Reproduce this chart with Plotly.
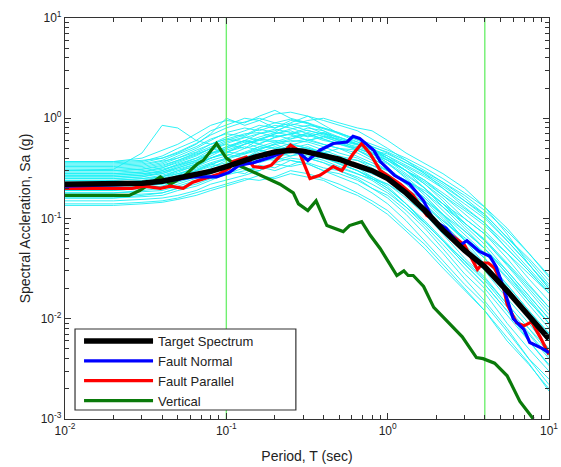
import plotly.graph_objects as go

# ---------------- data ----------------
periods = [0.01, 0.02, 0.03, 0.04, 0.05, 0.065, 0.08, 0.1, 0.13, 0.16, 0.2, 0.25, 0.32,
           0.4, 0.5, 0.65, 0.8, 1.0, 1.3, 1.7, 2.2, 3.0, 4.0, 5.5, 7.5, 10.0]

cyan_spectra = [
    [0.30,0.31,0.45,0.85,0.80,0.60,0.55,0.62,0.58,0.50,0.55,0.48,0.40,0.36,0.30,0.25,0.20,0.17,0.12,0.08,0.05,0.028,0.018,0.009,0.005,0.003],
    [0.37,0.37,0.40,0.48,0.55,0.70,0.85,0.95,0.90,1.05,1.20,1.00,0.90,0.75,0.65,0.55,0.45,0.36,0.25,0.17,0.11,0.06,0.035,0.02,0.011,0.006],
    [0.35,0.35,0.36,0.40,0.45,0.55,0.70,1.00,0.85,0.95,0.80,0.90,1.05,0.85,0.70,0.62,0.50,0.40,0.30,0.22,0.15,0.09,0.06,0.035,0.02,0.012],
    [0.28,0.28,0.29,0.31,0.34,0.38,0.45,0.52,0.60,0.70,0.75,0.85,0.95,1.00,0.90,0.80,0.75,0.60,0.45,0.35,0.28,0.20,0.13,0.07,0.035,0.02],
    [0.25,0.25,0.26,0.28,0.32,0.36,0.40,0.45,0.55,0.60,0.58,0.65,0.70,0.62,0.55,0.50,0.45,0.38,0.30,0.22,0.16,0.10,0.07,0.04,0.022,0.013],
    [0.14,0.14,0.145,0.15,0.16,0.18,0.20,0.22,0.25,0.24,0.26,0.30,0.28,0.25,0.22,0.18,0.15,0.12,0.08,0.055,0.035,0.02,0.012,0.006,0.0035,0.002],
    [0.16,0.16,0.165,0.17,0.19,0.21,0.24,0.28,0.32,0.30,0.36,0.40,0.38,0.42,0.35,0.30,0.25,0.20,0.14,0.09,0.06,0.035,0.022,0.012,0.006,0.0035],
    [0.20,0.20,0.21,0.22,0.25,0.30,0.35,0.32,0.40,0.48,0.45,0.50,0.55,0.48,0.42,0.38,0.32,0.26,0.19,0.13,0.085,0.05,0.03,0.016,0.009,0.005],
    [0.22,0.22,0.23,0.26,0.30,0.35,0.42,0.50,0.60,0.55,0.65,0.70,0.60,0.55,0.50,0.48,0.40,0.32,0.22,0.15,0.10,0.06,0.04,0.022,0.012,0.007],
    [0.18,0.18,0.19,0.20,0.22,0.25,0.28,0.33,0.38,0.42,0.40,0.45,0.50,0.45,0.40,0.32,0.28,0.24,0.17,0.12,0.08,0.05,0.035,0.02,0.011,0.0065],
    [0.32,0.32,0.33,0.36,0.42,0.50,0.60,0.72,0.80,0.75,0.85,0.80,0.70,0.62,0.55,0.48,0.42,0.35,0.26,0.18,0.12,0.075,0.05,0.028,0.015,0.009],
    [0.27,0.27,0.28,0.30,0.35,0.40,0.48,0.55,0.50,0.62,0.70,0.75,0.65,0.72,0.60,0.55,0.50,0.42,0.32,0.24,0.17,0.11,0.075,0.045,0.025,0.015],
    [0.24,0.24,0.25,0.27,0.30,0.33,0.38,0.42,0.50,0.55,0.50,0.48,0.52,0.45,0.38,0.32,0.26,0.21,0.14,0.09,0.06,0.035,0.022,0.012,0.007,0.004],
    [0.19,0.19,0.20,0.21,0.24,0.27,0.32,0.38,0.35,0.40,0.46,0.42,0.48,0.44,0.38,0.35,0.30,0.25,0.20,0.15,0.11,0.075,0.05,0.03,0.017,0.01],
    [0.30,0.30,0.31,0.33,0.38,0.45,0.52,0.60,0.68,0.80,0.90,0.85,0.75,0.70,0.65,0.55,0.50,0.40,0.30,0.20,0.13,0.08,0.05,0.028,0.016,0.009],
    [0.21,0.21,0.22,0.23,0.26,0.30,0.33,0.36,0.42,0.40,0.45,0.55,0.50,0.45,0.50,0.45,0.38,0.30,0.22,0.16,0.11,0.07,0.045,0.025,0.014,0.008],
    [0.17,0.17,0.175,0.18,0.20,0.23,0.26,0.30,0.28,0.34,0.32,0.38,0.35,0.30,0.28,0.24,0.20,0.16,0.11,0.07,0.045,0.025,0.015,0.008,0.004,0.0025],
    [0.26,0.26,0.27,0.30,0.34,0.40,0.45,0.48,0.55,0.62,0.60,0.58,0.62,0.55,0.50,0.42,0.36,0.30,0.24,0.19,0.14,0.10,0.07,0.045,0.028,0.018],
    [0.33,0.33,0.34,0.37,0.40,0.48,0.55,0.62,0.70,0.72,0.65,0.70,0.80,0.75,0.62,0.55,0.48,0.40,0.33,0.26,0.20,0.14,0.10,0.06,0.035,0.02],
    [0.23,0.23,0.24,0.26,0.28,0.32,0.36,0.40,0.45,0.50,0.55,0.60,0.58,0.52,0.45,0.40,0.34,0.28,0.20,0.14,0.09,0.055,0.035,0.02,0.011,0.0065],
    [0.15,0.15,0.155,0.16,0.17,0.19,0.22,0.24,0.27,0.30,0.35,0.33,0.36,0.32,0.30,0.26,0.22,0.18,0.13,0.09,0.06,0.038,0.025,0.014,0.008,0.005],
    [0.36,0.36,0.37,0.42,0.50,0.60,0.75,0.85,1.00,0.95,1.10,1.15,1.05,0.95,0.85,0.75,0.62,0.50,0.38,0.28,0.20,0.13,0.09,0.05,0.03,0.018],
    [0.29,0.29,0.30,0.32,0.36,0.42,0.50,0.58,0.65,0.60,0.70,0.78,0.85,0.80,0.72,0.60,0.52,0.45,0.36,0.28,0.22,0.15,0.11,0.065,0.04,0.024],
    [0.20,0.20,0.21,0.22,0.24,0.27,0.30,0.34,0.36,0.40,0.38,0.42,0.45,0.40,0.35,0.30,0.26,0.22,0.16,0.11,0.07,0.04,0.026,0.014,0.008,0.0045],
    [0.25,0.25,0.26,0.29,0.33,0.38,0.44,0.50,0.58,0.65,0.72,0.68,0.60,0.65,0.58,0.52,0.46,0.40,0.30,0.23,0.17,0.12,0.085,0.05,0.03,0.018],
    [0.31,0.31,0.32,0.35,0.40,0.46,0.55,0.65,0.75,0.85,0.80,0.95,0.90,0.80,0.72,0.62,0.55,0.48,0.40,0.32,0.25,0.18,0.13,0.08,0.045,0.026],
    [0.18,0.18,0.185,0.19,0.21,0.24,0.28,0.32,0.38,0.36,0.40,0.38,0.35,0.30,0.26,0.22,0.18,0.14,0.095,0.06,0.038,0.022,0.014,0.0075,0.004,0.0022],
    [0.22,0.22,0.23,0.24,0.27,0.30,0.34,0.40,0.46,0.52,0.50,0.56,0.50,0.46,0.40,0.38,0.34,0.30,0.24,0.18,0.13,0.09,0.062,0.036,0.021,0.013],
    [0.34,0.34,0.35,0.38,0.44,0.52,0.62,0.70,0.66,0.78,0.72,0.88,0.82,0.70,0.60,0.50,0.44,0.36,0.27,0.20,0.14,0.09,0.06,0.034,0.019,0.011],
    [0.16,0.16,0.17,0.18,0.20,0.22,0.25,0.27,0.30,0.33,0.30,0.34,0.40,0.36,0.32,0.28,0.25,0.22,0.17,0.13,0.095,0.065,0.045,0.026,0.015,0.009],
    [0.28,0.28,0.29,0.32,0.37,0.43,0.50,0.46,0.55,0.62,0.68,0.62,0.72,0.66,0.58,0.48,0.40,0.32,0.23,0.16,0.105,0.062,0.04,0.021,0.011,0.006],
    [0.24,0.24,0.25,0.26,0.29,0.34,0.40,0.46,0.52,0.48,0.56,0.62,0.68,0.60,0.56,0.50,0.44,0.38,0.30,0.24,0.18,0.125,0.09,0.055,0.032,0.019],
    [0.37,0.37,0.38,0.40,0.46,0.56,0.68,0.80,0.92,1.00,0.90,0.98,0.88,0.78,0.70,0.58,0.48,0.38,0.28,0.20,0.14,0.085,0.055,0.03,0.017,0.01],
    [0.19,0.19,0.20,0.21,0.23,0.26,0.30,0.35,0.40,0.44,0.42,0.46,0.42,0.38,0.33,0.28,0.24,0.19,0.13,0.085,0.055,0.032,0.02,0.011,0.006,0.0034],
    [0.26,0.26,0.27,0.28,0.31,0.35,0.40,0.46,0.44,0.52,0.58,0.54,0.60,0.66,0.62,0.56,0.48,0.42,0.34,0.27,0.21,0.15,0.105,0.06,0.035,0.021],
    [0.21,0.21,0.215,0.23,0.27,0.33,0.40,0.44,0.40,0.46,0.52,0.48,0.44,0.40,0.36,0.30,0.25,0.20,0.14,0.095,0.062,0.037,0.024,0.013,0.0072,0.0042],
    [0.30,0.30,0.31,0.34,0.38,0.44,0.50,0.56,0.64,0.70,0.78,0.72,0.66,0.72,0.64,0.58,0.52,0.46,0.38,0.30,0.23,0.16,0.11,0.065,0.038,0.022],
    [0.135,0.135,0.14,0.145,0.155,0.17,0.19,0.21,0.24,0.27,0.25,0.28,0.26,0.24,0.20,0.17,0.14,0.11,0.075,0.05,0.032,0.019,0.012,0.0065,0.0036,0.0019],
    [0.27,0.27,0.28,0.29,0.32,0.37,0.44,0.52,0.60,0.56,0.64,0.70,0.76,0.68,0.60,0.54,0.48,0.44,0.36,0.29,0.23,0.17,0.12,0.075,0.045,0.027],
    [0.23,0.23,0.235,0.25,0.28,0.31,0.35,0.39,0.44,0.48,0.45,0.50,0.46,0.42,0.38,0.35,0.30,0.26,0.19,0.14,0.095,0.06,0.04,0.022,0.012,0.0072],
]

target_T = [0.01, 0.02, 0.03, 0.04, 0.06, 0.08, 0.1, 0.15, 0.2, 0.25, 0.3, 0.4, 0.5, 0.6,
            0.8, 1.0, 1.3, 1.7, 2.2, 3.0, 4.0, 5.5, 7.5, 10.0]
target_Sa = [0.22, 0.22, 0.225, 0.235, 0.265, 0.295, 0.33, 0.41, 0.46, 0.48, 0.47, 0.43,
             0.39, 0.35, 0.30, 0.25, 0.18, 0.12, 0.077, 0.048, 0.033, 0.019, 0.0105, 0.0063]

fn_T = [0.01, 0.029, 0.039, 0.062, 0.087, 0.105, 0.12, 0.147, 0.19, 0.24, 0.28, 0.32, 0.38,
        0.46, 0.56, 0.61, 0.67, 0.82, 0.9, 1.0, 1.1, 1.37, 1.67, 1.93, 2.3, 2.8, 3.1, 3.7,
        4.3, 4.7, 5.2, 6.0, 7.0, 7.6, 9.0, 10.0]
fn_Sa = [0.21, 0.22, 0.23, 0.26, 0.26, 0.29, 0.34, 0.36, 0.41, 0.48, 0.46, 0.38, 0.48,
         0.56, 0.58, 0.66, 0.63, 0.48, 0.37, 0.31, 0.27, 0.22, 0.15, 0.095, 0.08, 0.054,
         0.06, 0.047, 0.042, 0.033, 0.021, 0.01, 0.0078, 0.0058, 0.0051, 0.0046]

fp_T = [0.01, 0.026, 0.031, 0.039, 0.045, 0.054, 0.062, 0.079, 0.091, 0.105, 0.11, 0.133,
        0.147, 0.17, 0.19, 0.25, 0.28, 0.33, 0.38, 0.46, 0.52, 0.61, 0.69, 0.78, 0.9, 1.2,
        1.44, 1.75, 1.9, 2.15, 2.5, 3.0, 3.6, 3.9, 4.2, 4.6, 5.2, 5.5, 6.3, 7.0, 7.8, 8.8, 10.0]
fp_Sa = [0.20, 0.20, 0.21, 0.20, 0.21, 0.20, 0.23, 0.26, 0.28, 0.32, 0.37, 0.41, 0.33,
         0.32, 0.34, 0.54, 0.48, 0.25, 0.27, 0.33, 0.30, 0.44, 0.56, 0.44, 0.30, 0.22,
         0.17, 0.107, 0.10, 0.079, 0.068, 0.054, 0.031, 0.036, 0.036, 0.032, 0.021, 0.014,
         0.0091, 0.0085, 0.0093, 0.0066, 0.0044]

vt_T = [0.01, 0.025, 0.029, 0.039, 0.045, 0.054, 0.066, 0.072, 0.087, 0.1, 0.11, 0.147,
        0.215, 0.26, 0.28, 0.32, 0.36, 0.42, 0.53, 0.58, 0.69, 0.78, 0.9, 1.0, 1.14, 1.26,
        1.34, 1.44, 1.67, 1.93, 2.4, 2.9, 3.55, 3.9, 4.6, 5.5, 6.6, 8.0]
vt_Sa = [0.17, 0.17, 0.19, 0.26, 0.22, 0.26, 0.35, 0.38, 0.56, 0.40, 0.36, 0.29, 0.22,
         0.18, 0.14, 0.12, 0.15, 0.085, 0.074, 0.085, 0.093, 0.068, 0.05, 0.038, 0.027,
         0.030, 0.027, 0.027, 0.021, 0.013, 0.0091, 0.0066, 0.0041, 0.004, 0.0036,
         0.0027, 0.0015, 0.001]

period_range_bounds = [0.1, 4.0]

y_range = [0.001, 10.0]
tick_vals = [0.01, 0.1, 1, 10]
x_tick_text = ["10<sup>-2</sup>", "10<sup>-1</sup>", "10<sup>0</sup>", "10<sup>1</sup>"]
y_tick_vals = [0.001, 0.01, 0.1, 1, 10]
y_tick_text = ["10<sup>-3</sup>", "10<sup>-2</sup>", "10<sup>-1</sup>", "10<sup>0</sup>", "10<sup>1</sup>"]

# ---------------- figure ----------------
fig = go.Figure()

for s in cyan_spectra:
    fig.add_trace(go.Scatter(x=periods, y=s, mode="lines", showlegend=False,
                             line=dict(color="#19f0f5", width=0.9), hoverinfo="skip"))

for b in period_range_bounds:
    fig.add_trace(go.Scatter(x=[b, b], y=y_range, mode="lines", showlegend=False,
                             line=dict(color="#70f070", width=1.4), hoverinfo="skip"))

fig.add_trace(go.Scatter(x=vt_T, y=vt_Sa, mode="lines", name="Vertical",
                         line=dict(color="#0a7a0a", width=3.2)))
fig.add_trace(go.Scatter(x=fp_T, y=fp_Sa, mode="lines", name="Fault Parallel",
                         line=dict(color="#ff0000", width=3.2)))
fig.add_trace(go.Scatter(x=fn_T, y=fn_Sa, mode="lines", name="Fault Normal",
                         line=dict(color="#0000ff", width=3.2)))
fig.add_trace(go.Scatter(x=target_T, y=target_Sa, mode="lines", name="Target Spectrum",
                         line=dict(color="#000000", width=5.5)))

font_family = "Liberation Sans, Arial, sans-serif"
minor_vals = [m * 10 ** e for e in range(-3, 1) for m in range(2, 10)]

axis_common = dict(
    type="log", showgrid=False, zeroline=False, showline=True, linecolor="#333",
    linewidth=1.2, mirror="ticks", ticks="inside", ticklen=6, tickcolor="#333",
    automargin=False,
    tickfont=dict(family=font_family, size=12, color="#222"),
    minor=dict(ticks="inside", ticklen=4, tickcolor="#333", tickvals=minor_vals),
)

fig.update_xaxes(range=[-2, 1], tickvals=tick_vals, ticktext=x_tick_text,
                 title=dict(text="Period, T (sec)", font=dict(family=font_family, size=14, color="#222"),
                            standoff=14),
                 **axis_common)
fig.update_yaxes(range=[-3, 1], tickvals=y_tick_vals, ticktext=y_tick_text,
                 title=dict(text="Spectral Accleration, Sa (g)",
                            font=dict(family=font_family, size=14, color="#222"), standoff=6),
                 **axis_common)

# legend frame (drawn as a white box above the traces; the legend sits on top of it)
fig.add_shape(type="rect", xref="paper", yref="paper",
              x0=0.0207, x1=0.477, y0=0.0224, y1=0.2244,
              fillcolor="white", line=dict(color="#333", width=1.2), layer="above")

fig.update_layout(
    width=561, height=467,
    margin=dict(l=65, r=12, t=18, b=48, autoexpand=False),
    paper_bgcolor="white", plot_bgcolor="white",
    font=dict(family=font_family, color="#222"),
    legend=dict(x=0.029, y=0.232, xanchor="left", yanchor="top",
                traceorder="reversed", bgcolor="rgba(0,0,0,0)", borderwidth=0,
                font=dict(family=font_family, size=13, color="#222"),
                itemwidth=69, tracegroupgap=0),
)

fig.write_html("out.html")
